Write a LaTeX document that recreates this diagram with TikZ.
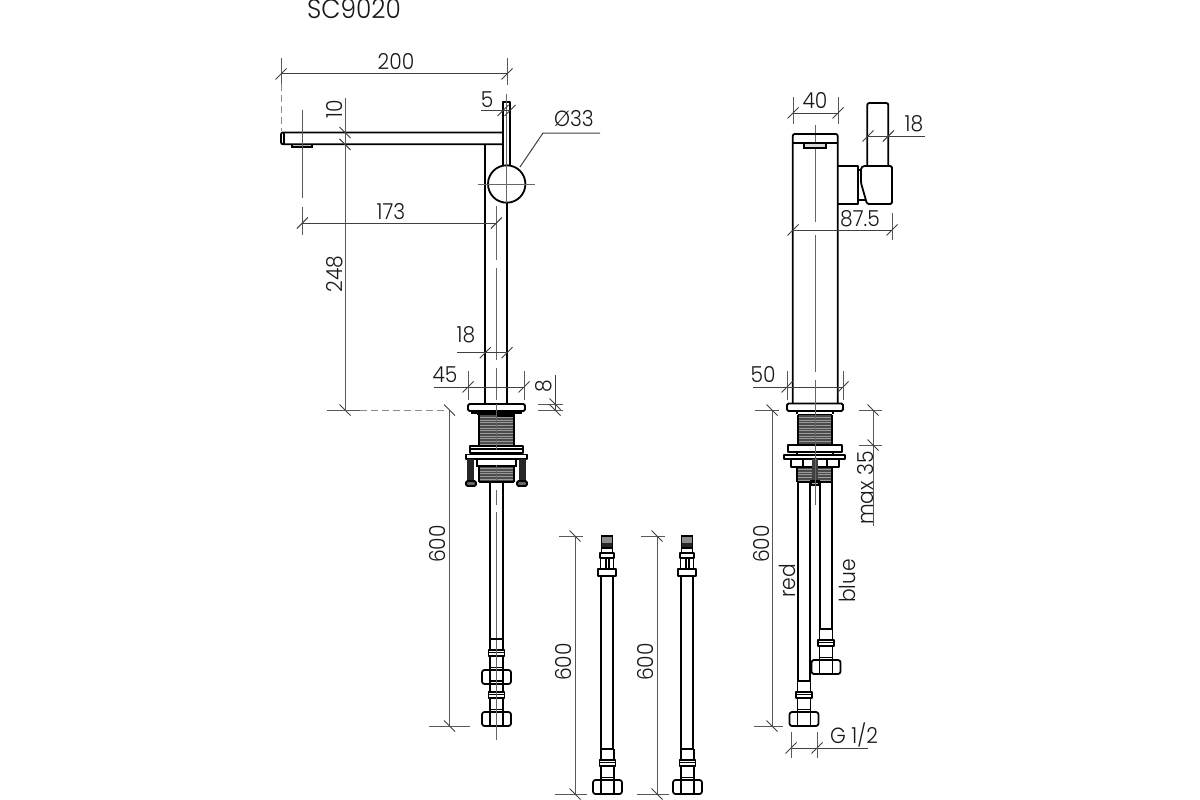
\documentclass[tikz,border=0pt]{standalone}
\usepackage{fontspec}
\setmainfont{Poppins}[UprightFont=* Light,FakeStretch=0.92]
\tikzset{
  part/.style={line width=1.8pt,draw=black,line join=round},
  thin part/.style={line width=1.2pt,draw=black},
  dimline/.style={line width=1pt,draw=black!75},
  extline/.style={line width=1pt,draw=black!65},
  axisline/.style={line width=1pt,draw=black!60},
  dashext/.style={line width=1pt,draw=black!45,dash pattern=on 7pt off 4pt},
  txtlab/.style={font=\fontsize{22}{22}\selectfont,text=black!90,inner sep=0pt},
  vlabel/.style={txtlab,rotate=90},
}
\newcommand{\htick}[2]{\draw[dimline] ({#1-5.5},{#2+5.5})--({#1+5.5},{#2-5.5});}
\newcommand{\vtick}[2]{\draw[dimline] ({#1-5.5},{#2-5.5})--({#1+5.5},{#2+5.5});}
% hatch: x1 x2 y1 y2
\newcommand{\hatchbox}[4]{\fill[black!40] (#1,#3) rectangle (#2,#4);
  \pgfmathsetmacro\hend{#4-#3}
  \foreach \yy in {0,1.6,...,\hend} {\draw[line width=0.7pt,black!70] (#1,{#3+\yy})--(#2,{#3+\yy});}
  \draw[thin part] (#1,#3)--(#1,#4) (#2,#3)--(#2,#4);}
\newcommand{\tailpart}[2]{% cx, y of collar top
  \draw[thin part] ({#1-6.5},{#2-11})--({#1+6.5},{#2-11});
  \draw[thin part] ({#1-6.5},{#2-11})--({#1-6.5},{#2}) ({#1+6.5},{#2-11})--({#1+6.5},{#2});
  \draw[part] ({#1-8},{#2}) rectangle ({#1+8},{#2+6});
  \draw[part] ({#1-8},{#2+2.5})--({#1+8},{#2+2.5});
  \draw[thin part] ({#1-6.5},{#2+6})--({#1-6.5},{#2+20}) ({#1+6.5},{#2+6})--({#1+6.5},{#2+20});
  \draw[part] ({#1-6.5},{#2+17.5})--({#1+6.5},{#2+17.5});
  \draw[part,rounded corners=2.5pt] ({#1-14.5},{#2+20}) rectangle ({#1+14.5},{#2+34});
  \draw[thin part] ({#1-6.5},{#2+20})--({#1-6.5},{#2+34}) ({#1+6.5},{#2+20})--({#1+6.5},{#2+34});
}
\newcommand{\hosetop}[1]{% cx
  \fill[black!45] ({#1-5.5},536) rectangle ({#1+5.5},543);
  \fill[black!85] ({#1-5.5},543) rectangle ({#1+5.5},548);
  \draw[thin part] ({#1-5.5},536) rectangle ({#1+5.5},548);
  \draw[part] ({#1-5.5},548) rectangle ({#1+5.5},553);
  \draw[part] ({#1-7},553) rectangle ({#1+7},558);
  \draw[part] ({#1-6.5},558) rectangle ({#1+6.5},569);
  \fill[black] ({#1-2.5},558) rectangle ({#1-0.5},569);
  \fill[black] ({#1+1},558) rectangle ({#1+3},569);
  \draw[part] ({#1-9},569) rectangle ({#1+9},576);
}
\begin{document}
\begin{tikzpicture}[x=1pt,y=-1pt]
\useasboundingbox (0,0) rectangle (1200,800);
\fill[white] (0,0) rectangle (1200,800);

\node[txtlab,font=\fontsize{27}{27}\selectfont] (title) at (354,9) {SC9020};

%% ---------- side view
\draw[axisline] (496.3,206)--(496.3,260) (496.3,268)--(496.3,360) (496.3,368)--(496.3,400) (496.3,404)--(496.3,450);
\draw[axisline] (496.3,465)--(496.3,480) (496.3,490)--(496.3,505) (496.3,512)--(496.3,640) (496.3,646)--(496.3,740);
\draw[part,rounded corners=2pt] (503,132.5)--(281,132.5)--(281,144.3)--(503,144.3);
\draw[thin part] (284,132.5)--(284,144.3);
\draw[thin part,fill=black!25] (292,144.3) rectangle (312,147);
\draw[part] (485.3,144.3)--(485.3,404);
\draw[part] (507,203)--(507,404);
\draw[part] (503.3,144.3)--(503.3,102)--(510,102)--(510,165.5);
\draw[part] (503.3,132.5)--(503.3,165.5);
\draw[part,fill=white] (506.7,184) circle (18.7);
\draw[axisline] (478,184)--(535,184);
\draw[axisline] (506.7,94)--(506.7,203);
% 200
\draw[dimline] (281,74)--(507,74);
\draw[extline] (281,58)--(281,84) (507,58)--(507,85);
\draw[dashext] (281,84)--(281,131);
\htick{281}{74}\htick{507}{74}
\node[txtlab] (d200) at (396,62) {200};
% 5
\draw[dimline] (481,110.5)--(510,110.5);
\htick{503}{110.5}\htick{510}{110.5}
\node[txtlab] (d5) at (487,100) {5};
% 10 / 248
\draw[extline] (345,98)--(345,410);
\vtick{345}{132.5}\vtick{345}{144.3}\vtick{345}{410}
\node[vlabel] (d10) at (335,109) {10};
\node[vlabel] (d248) at (335,274) {248};
\draw[extline] (327,410)--(360,410);
\draw[dashext] (360,410)--(445,410);
% 173
\draw[extline] (302.3,110)--(302.3,198) (302.3,207)--(302.3,235);
\draw[dimline] (302.3,223)--(496.3,223);
\htick{302.3}{223}\htick{496.3}{223}
\node[txtlab] (d173) at (391,212) {173};
% O33
\draw[dimline] (520,167)--(543,133)--(600,133);
\node[txtlab] (d33) at (574,119) {Ø33};
% 18
\draw[dimline] (457,352.7)--(507,352.7);
\htick{485.3}{352.7}\htick{507}{352.7}
\node[txtlab] (d18a) at (466,335) {18};
% 45
\draw[dimline] (434,387)--(524,387);
\draw[extline] (468,371)--(468,400) (524,371)--(524,400);
\htick{468}{387}\htick{524}{387}
\node[txtlab] (d45) at (445,375) {45};
% 8
\draw[extline] (538,404)--(563,404) (538,410)--(563,410);
\draw[dimline] (555,375)--(555,410);
\vtick{555}{404}\vtick{555}{410}
\node[vlabel] (d8) at (544,386) {8};
% flange & threads
\draw[part,rounded corners=1.5pt,fill=white] (468,404) rectangle (525,411);
\draw[thin part] (472,411)--(472,413)--(521,413)--(521,411);
\draw[part] (477,414)--(515,414);
\hatchbox{479}{514}{415}{445}
\fill[black] (496.3,414) rectangle (514,416.5);
\draw[part] (470,446) rectangle (523,453);
\draw[thin part] (470,449)--(523,449);
\draw[part] (466,454.5) rectangle (527,459);
\foreach \xx in {474,478,515,519} {\draw[thin part] (\xx,453)--(\xx,454.5);}
\hatchbox{479}{514}{466}{482}
\draw[thin part,fill=white] (477,459) rectangle (516,466);
\fill[black!85] (467,459) rectangle (474,481);
\fill[black!85] (519,459) rectangle (525.5,481);
\draw[part,fill=black!60,rounded corners=1.5pt] (466,481) rectangle (476,486);
\draw[part,fill=black!60,rounded corners=1.5pt] (517,481) rectangle (527,486);
\draw[part] (479,482)--(514,482);
\draw[axisline] (496.3,404)--(496.3,450) (496.3,465)--(496.3,480);
% pipe
\draw[part] (490,482)--(490,639) (502.7,482)--(502.7,639);
\tailpart{496.5}{650}
\draw[thin part,fill=white] (490,684) rectangle (503,692);
\tailpart{496.5}{692}
\draw[axisline] (496.3,640)--(496.3,740);
% 600
\draw[extline] (449.5,410)--(449.5,726);
\draw[extline] (429,726)--(470,726);
\vtick{449.5}{410}\vtick{449.5}{726}
\node[vlabel] (d600a) at (437,544) {600};

%% ---------- loose hoses
\hosetop{607}
\draw[part] (601,576)--(601,749) (613,576)--(613,749);
\tailpart{607.5}{760}
\draw[extline] (575,536)--(575,794);
\draw[extline] (559,536)--(583,536) (555,794)--(587,794);
\vtick{575}{536}\vtick{575}{794}
\node[vlabel] (d600b) at (563,662) {600};

\hosetop{687}
\draw[part] (681,576)--(681,749) (693,576)--(693,749);
\tailpart{687.5}{760}
\draw[extline] (657,536)--(657,794);
\draw[extline] (641,536)--(665,536) (637,794)--(669,794);
\vtick{657}{536}\vtick{657}{794}
\node[vlabel] (d600c) at (645,662) {600};

%% ---------- front view
\draw[axisline] (815,125)--(815,222) (815,235)--(815,372) (815,380)--(815,505);
\draw[part,rounded corners=2pt] (792.7,404)--(792.7,134)--(837.7,134)--(837.7,404);
\draw[part] (792.7,143.3)--(837.7,143.3);
\draw[thin part,fill=black!15] (804,143.3) rectangle (826,148);
\draw[part,rounded corners=2pt] (867.3,166)--(867.3,103)--(888.3,103)--(888.3,166);
\draw[part] (837.7,166)--(858,166)--(858,204)--(837.7,204);
\draw[part] (858,170)--(861,170) (858,200)--(865,200);
\draw[part,rounded corners=1.5pt] (861,168)--(863,166)--(892,166)--(892,204)--(867,204)--(861,183)--cycle;
% 40
\draw[dimline] (793,113)--(838,113);
\draw[extline] (793,97)--(793,124) (838,97)--(838,124);
\htick{793}{113}\htick{838}{113}
\node[txtlab] (d40) at (815,101) {40};
% 18
\draw[dimline] (868,136)--(925,136);
\htick{868}{136}\htick{888.3}{136}
\node[txtlab] (d18b) at (914,124) {18};
% 87.5
\draw[dimline] (793,230)--(892,230);
\draw[extline] (892,213)--(892,240);
\htick{793}{230}\htick{892}{230}
\node[txtlab] (d875) at (860,219) {87.5};
% 50
\draw[dimline] (753,387)--(843,387);
\draw[extline] (787,371)--(787,400) (843,371)--(843,400);
\htick{787}{387}\htick{843}{387}
\node[txtlab] (d50) at (763,375) {50};
% flange & threads
\draw[part,rounded corners=1.5pt,fill=white] (787,403.5) rectangle (843,411);
\draw[thin part] (797,411)--(797,414) (833,411)--(833,414);
\draw[part] (798,414.5)--(832,414.5);
\hatchbox{798}{832}{415}{445}
\draw[part] (788,445) rectangle (842,452);
\draw[thin part] (797,452)--(797,455) (833,452)--(833,455);
\draw[part] (784,455) rectangle (845,459);
\hatchbox{797}{832}{467}{482}
\draw[part,fill=white] (791,459) rectangle (839,467);
\draw[thin part] (803,459)--(803,467) (827,459)--(827,467);
\fill[black!75] (812,459) rectangle (818,481);
\draw[thin part,fill=black!30] (811,481) rectangle (819,485);
\draw[part] (797,482)--(832,482);
\draw[axisline] (815,380)--(815,505);
% hoses
\draw[part] (798,482)--(798,681) (810,482)--(810,681);
\draw[part] (820,482)--(820,629) (832,482)--(832,629);
\tailpart{826}{640}
\tailpart{804}{692}
% 600
\draw[extline] (772,410)--(772,726);
\draw[extline] (755,410)--(779,410) (754,726)--(783,726);
\vtick{772}{410}\vtick{772}{726}
\node[vlabel] (d600d) at (761,544) {600};
% max 35
\draw[extline] (873,410)--(873,526);
\draw[extline] (859,410)--(882,410) (859,445)--(882,445);
\vtick{873}{410}\vtick{873}{445}
\node[vlabel] (dmax) at (866,488) {max 35};
\node[vlabel] (dred) at (787,581) {red};
\node[vlabel] (dblue) at (847,581) {blue};
% G 1/2
\draw[dimline] (791,748)--(868,748);
\draw[extline] (791,732)--(791,758) (817,732)--(817,758);
\htick{791}{748}\htick{817}{748}
\node[txtlab] (dg) at (854,735) {G 1/2};
\end{tikzpicture}
\end{document}
